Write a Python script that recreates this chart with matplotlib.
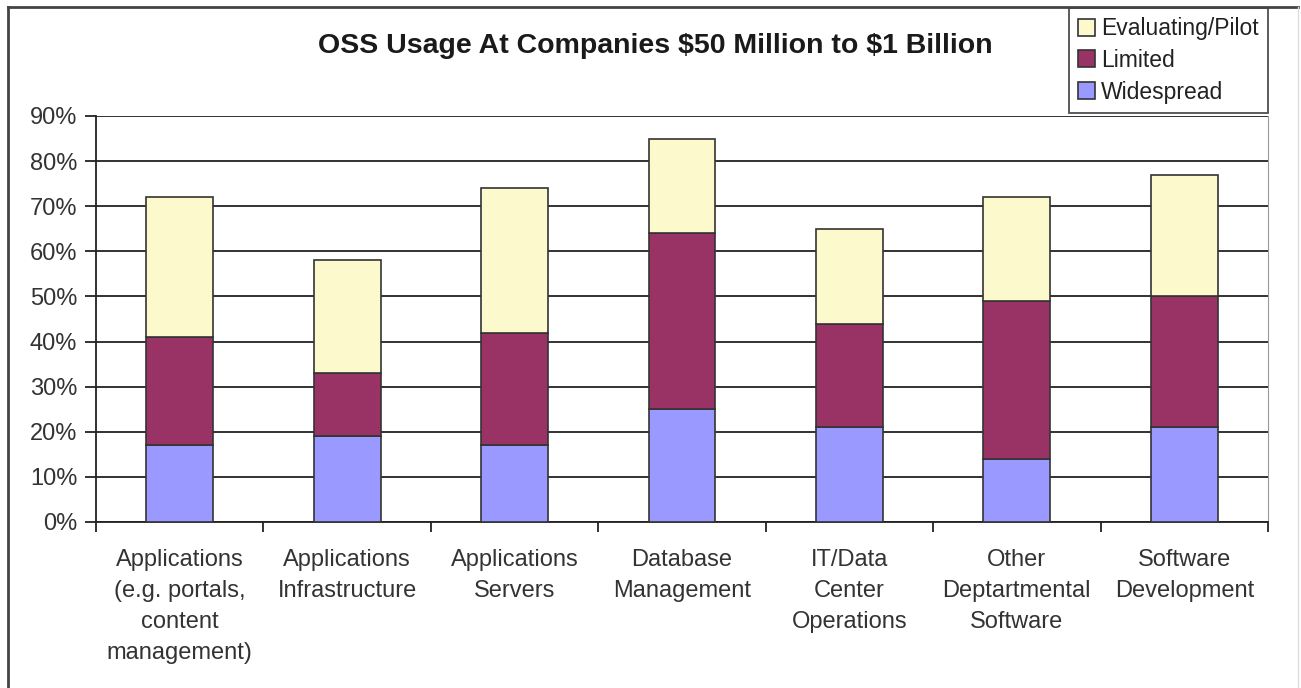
import numpy as np
import matplotlib.pyplot as plt
from matplotlib.lines import Line2D

categories = [
    "Applications\n(e.g. portals,\ncontent\nmanagement)",
    "Applications\nInfrastructure",
    "Applications\nServers",
    "Database\nManagement",
    "IT/Data\nCenter\nOperations",
    "Other\nDeptartmental\nSoftware",
    "Software\nDevelopment",
]
# stacked segments in percent
widespread = [17, 19, 17, 25, 21, 14, 21]
limited = [24, 14, 25, 39, 23, 35, 29]
evaluating = [31, 25, 32, 21, 21, 23, 27]
y_ticks = [0, 10, 20, 30, 40, 50, 60, 70, 80, 90]

plt.rcParams['font.family'] = ['Liberation Sans', 'DejaVu Sans']

fig = plt.figure(figsize=(13.01, 6.88), dpi=100)
ax = fig.add_axes([96 / 1301, 1 - 522 / 688, (1268 - 96) / 1301, (522 - 116) / 688])

x = np.arange(len(categories))
w = 0.4
edge = dict(edgecolor='#333333', linewidth=1.2)
b1 = ax.bar(x, widespread, w, color='#9999FF', label='Widespread', zorder=3, **edge)
b2 = ax.bar(x, limited, w, bottom=widespread, color='#993366', label='Limited', zorder=3, **edge)
bottom2 = np.array(widespread) + np.array(limited)
b3 = ax.bar(x, evaluating, w, bottom=bottom2, color='#FCF9CC', label='Evaluating/Pilot',
            zorder=3, **edge)

ax.set_xlim(-0.5, len(categories) - 0.5)
ax.set_ylim(0, 90)
ax.set_yticks(y_ticks)
ax.set_yticklabels([f"{v}%" for v in y_ticks], fontsize=17, color='#333333')
ax.yaxis.grid(True, color='#222222', linewidth=1.3, zorder=0)
ax.set_axisbelow(True)

# category labels centred under the bars, ticks on the boundaries
ax.set_xticks(x)
ax.set_xticklabels(categories, fontsize=17, color='#333333', linespacing=1.52)
ax.tick_params(axis='x', length=0, pad=19.5)
ax.set_xticks(np.arange(len(categories) + 1) - 0.5, minor=True)
ax.tick_params(axis='x', which='minor', length=7, width=1.3, direction='out', color='#222222')
ax.tick_params(axis='y', length=8, width=1.3, direction='out', color='#222222', pad=5.5)

for side in ['left', 'bottom']:
    ax.spines[side].set_color('#222222')
    ax.spines[side].set_linewidth(1.3)
ax.spines['right'].set_color('#999999')
ax.spines['top'].set_visible(False)

fig.text(655 / 1301, 1 - 46 / 688, "OSS Usage At Companies \\$50 Million to \\$1 Billion",
         ha='center', va='center', fontsize=20.5, fontweight='bold', color='#1a1a1a')

leg = ax.legend(handles=[b3, b2, b1], loc='upper right', bbox_to_anchor=(1268 / 1301, 1 - 8 / 688),
                bbox_transform=fig.transFigure, fontsize=16.5, frameon=True, fancybox=False,
                handlelength=0.75, handleheight=0.75, handletextpad=0.25, labelspacing=0.38,
                borderpad=0.4, borderaxespad=0)
leg.get_frame().set_edgecolor('#222222')
leg.get_frame().set_linewidth(1.3)
for t in leg.get_texts():
    t.set_color('#222222')

# outer border of the chart
fig.add_artist(Line2D([8 / 1301, 8 / 1301], [0, 1 - 7 / 688], transform=fig.transFigure,
                      color='#444444', linewidth=2))
fig.add_artist(Line2D([8 / 1301, 1298 / 1301], [1 - 7 / 688, 1 - 7 / 688], transform=fig.transFigure,
                      color='#444444', linewidth=2))
fig.add_artist(Line2D([1298 / 1301, 1298 / 1301], [0, 1 - 7 / 688], transform=fig.transFigure,
                      color='#dddddd', linewidth=1))

fig.savefig('out.png', dpi=100)
